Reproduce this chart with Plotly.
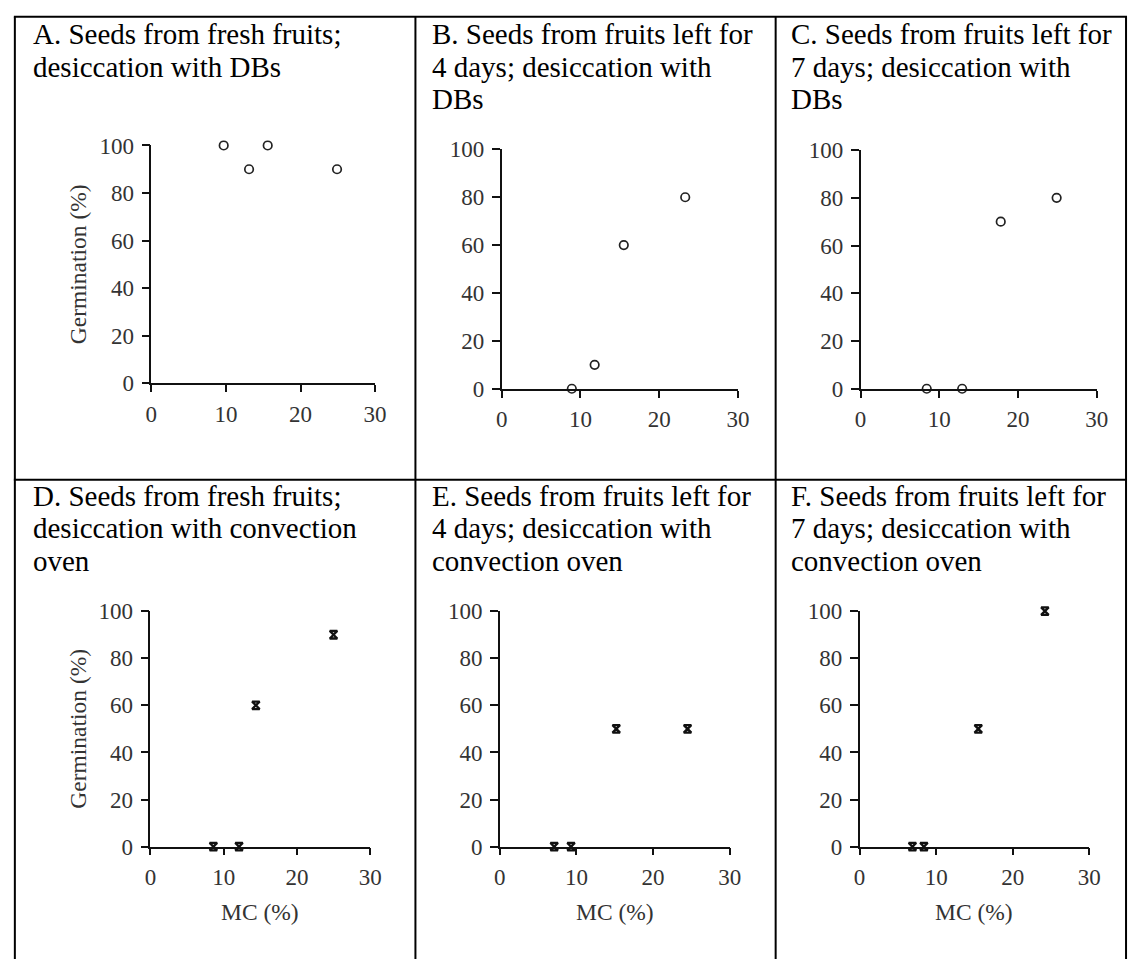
import plotly.graph_objects as go

W, H = 1140, 972

# ---- data ----
mc_A = [9.7, 13.1, 15.6, 24.9]
germ_A = [100, 90, 100, 90]
mc_B = [8.9, 11.8, 15.5, 23.3]
germ_B = [0, 10, 60, 80]
mc_C = [8.4, 12.9, 17.8, 24.9]
germ_C = [0, 0, 70, 80]
mc_D = [8.6, 12.1, 14.4, 25.0]
germ_D = [0, 0, 60, 90]
mc_E = [7.1, 9.3, 15.2, 24.5]
germ_E = [0, 0, 50, 50]
mc_F = [6.9, 8.4, 15.5, 24.2]
germ_F = [0, 0, 50, 100]

x_ticks = [0, 10, 20, 30]
y_ticks = [0, 20, 40, 60, 80, 100]

titles = {
    "A": ["A. Seeds from fresh fruits;", "desiccation with DBs"],
    "B": ["B. Seeds from fruits left for", "4 days; desiccation with", "DBs"],
    "C": ["C. Seeds from fruits left for", "7 days; desiccation with", "DBs"],
    "D": ["D. Seeds from fresh fruits;", "desiccation with convection", "oven"],
    "E": ["E. Seeds from fruits left for", "4 days; desiccation with", "convection oven"],
    "F": ["F. Seeds from fruits left for", "7 days; desiccation with", "convection oven"],
}
y_title = "Germination (%)"
x_title = "MC (%)"

# ---- layout (pixel boxes of each plot: left, right, top, bottom) ----
boxes = {
    "A": (147.7, 375.0, 137.0, 381.0),
    "B": (503.7, 743.7, 141.0, 386.7),
    "C": (868.3, 1108.3, 141.7, 386.7),
    "D": (146.7, 370.0, 615.0, 856.7),
    "E": (501.7, 735.3, 615.0, 856.7),
    "F": (867.3, 1100.7, 615.0, 856.7),
}
text_left = {"A": 25, "B": 431, "C": 796, "D": 25, "E": 431, "F": 796}
row_baselines = {"A": 32, "B": 32, "C": 32, "D": 506, "E": 506, "F": 506}
line_gap = 33.5

data = {
    "A": (mc_A, germ_A), "B": (mc_B, germ_B), "C": (mc_C, germ_C),
    "D": (mc_D, germ_D), "E": (mc_E, germ_E), "F": (mc_F, germ_F),
}
symbols = {"A": "circle-open", "B": "circle-open", "C": "circle-open",
           "D": "hourglass-open", "E": "hourglass-open", "F": "hourglass-open"}

FONT = "Liberation Serif, Times New Roman, serif"

def px(x):
    return x / W

def py(y):
    return 1 - y / H

fig = go.Figure()
annotations = []
layout_axes = {}

for i, k in enumerate(["A", "B", "C", "D", "E", "F"]):
    n = "" if i == 0 else str(i + 1)
    l, r, t, b = boxes[k]
    xs, ys = data[k]
    if symbols[k] == "circle-open":
        marker = dict(symbol="circle-open", size=8.5, color="#222", line=dict(width=1.7, color="#222"))
    else:
        marker = dict(symbol="hourglass-open", size=7.5, color="#111", line=dict(width=2.3, color="#111"))
    fig.add_trace(go.Scatter(x=xs, y=ys, mode="markers", marker=marker,
                             xaxis="x" + n, yaxis="y" + n, cliponaxis=False,
                             showlegend=False, hoverinfo="x+y"))
    layout_axes["xaxis" + n] = dict(
        domain=[px(l), px(r)], anchor="y" + n, range=[0, 30],
        tickvals=x_ticks, ticks="outside", ticklen=7, tickwidth=1.6, tickcolor="#111",
        showline=True, linecolor="#111", linewidth=1.6, showgrid=False, zeroline=False,
        tickfont=dict(family=FONT, size=23, color="#333"), fixedrange=True,
        ticklabelstandoff=2,
    )
    layout_axes["yaxis" + n] = dict(
        domain=[py(b), py(t)], anchor="x" + n, range=[0, 100],
        tickvals=y_ticks, ticks="outside", ticklen=8, tickwidth=1.6, tickcolor="#111",
        showline=True, linecolor="#111", linewidth=1.6, showgrid=False, zeroline=False,
        tickfont=dict(family=FONT, size=23, color="#333"), fixedrange=True,
        ticklabelstandoff=3,
    )
    # titles
    for j, line in enumerate(titles[k]):
        base = row_baselines[k] + j * line_gap
        annotations.append(dict(
            text=line, xref="paper", yref="paper", x=px(text_left[k]), y=py(base - 9.5),
            xanchor="left", yanchor="middle", showarrow=False,
            font=dict(family=FONT, size=29, color="#000"),
        ))
    # axis titles
    if k in ("A", "D"):
        annotations.append(dict(
            text=y_title, xref="paper", yref="paper", x=px(73), y=py((t + b) / 2),
            xanchor="center", yanchor="middle", textangle=-90, showarrow=False,
            font=dict(family=FONT, size=23.5, color="#333"),
        ))
    if k in ("D", "E", "F"):
        annotations.append(dict(
            text=x_title, xref="paper", yref="paper", x=px((l + r) / 2), y=py(924),
            xanchor="center", yanchor="middle", showarrow=False,
            font=dict(family=FONT, size=23.5, color="#333"),
        ))

# table borders
shapes = []
border = dict(color="#000", width=2)
for xv in (9, 416, 782, 1138):
    shapes.append(dict(type="line", xref="paper", yref="paper",
                       x0=px(xv), x1=px(xv), y0=py(5), y1=py(972), line=border))
for yv in (5, 480):
    shapes.append(dict(type="line", xref="paper", yref="paper",
                       x0=px(8), x1=px(1139), y0=py(yv), y1=py(yv), line=border))

fig.update_layout(
    width=W, height=H, autosize=False,
    margin=dict(l=0, r=0, t=0, b=0),
    paper_bgcolor="white", plot_bgcolor="white",
    annotations=annotations, shapes=shapes,
    **layout_axes,
)

fig.write_html(
    "out.html",
    config={"displayModeBar": False},
    post_script="document.body.style.margin='0';document.body.style.overflow='hidden';",
)
